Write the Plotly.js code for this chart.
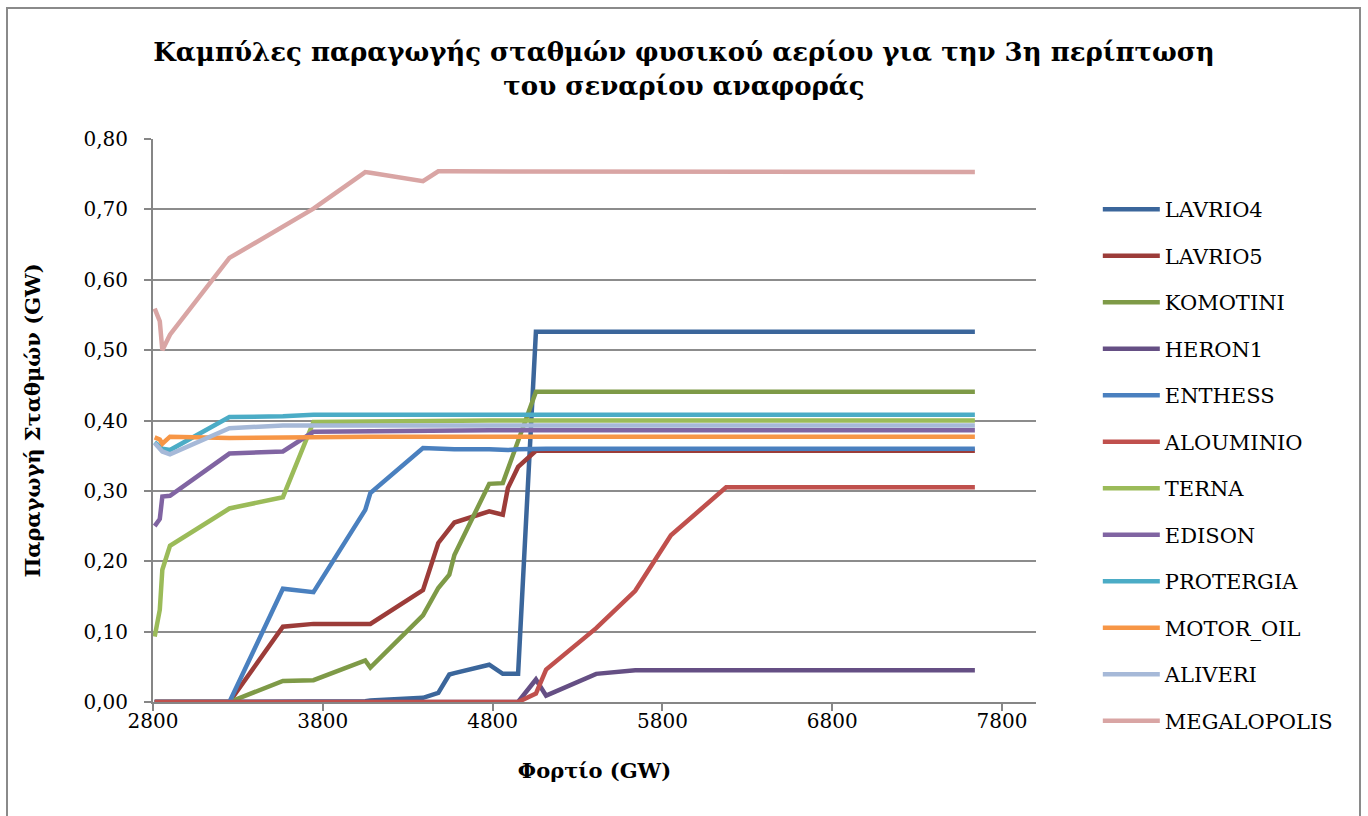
<!DOCTYPE html>
<html>
<head>
<meta charset="utf-8">
<script src="https://cdn.plot.ly/plotly-3.0.1.min.js"></script>
<style>
  html, body { margin: 0; padding: 0; background: #ffffff; overflow: hidden; }
  #chart { position: absolute; left: 0; top: 0; width: 1368px; height: 816px; }
  #frame { position: absolute; left: 6px; top: 7px; width: 1355px; height: 830px;
           border: 2px solid #8a8a8a; box-sizing: border-box; pointer-events: none; }
</style>
</head>
<body>
<div id="chart"></div>
<div id="frame"></div>
<script>
// Load (GW) – common x values
const load = [2810, 2840, 2855, 2900, 3250, 3565, 3745, 4050, 4080, 4390, 4480, 4545, 4575, 4780, 4860, 4890, 4950, 5055, 5115, 5410, 5640, 5850, 6175, 7640];

const LAVRIO4     = [0, 0, 0, 0, 0, 0, 0.001, 0.001, 0.002, 0.006, 0.013, 0.039, 0.041, 0.053, 0.040, 0.040, 0.040, 0.526, 0.526, 0.526, 0.526, 0.526, 0.526, 0.526];
const LAVRIO5     = [0, 0, 0, 0, 0, 0.107, 0.111, 0.111, 0.111, 0.159, 0.226, 0.246, 0.255, 0.271, 0.266, 0.304, 0.334, 0.357, 0.357, 0.357, 0.357, 0.357, 0.357, 0.357];
const KOMOTINI    = [0, 0, 0, 0, 0, 0.030, 0.031, 0.059, 0.049, 0.123, 0.162, 0.181, 0.209, 0.310, 0.311, 0.331, 0.371, 0.441, 0.441, 0.441, 0.441, 0.441, 0.441, 0.441];
const HERON1      = [0, 0, 0, 0, 0, 0, 0, 0, 0, 0, 0, 0, 0, 0, 0, 0, 0, 0.032, 0.009, 0.040, 0.045, 0.045, 0.045, 0.045];
const ENTHESS     = [0, 0, 0, 0, 0, 0.161, 0.156, 0.273, 0.297, 0.361, 0.360, 0.359, 0.359, 0.359, 0.358, 0.358, 0.359, 0.360, 0.360, 0.360, 0.360, 0.360, 0.360, 0.360];
const ALOUMINIO   = [0, 0, 0, 0, 0, 0, 0, 0, 0, 0, 0, 0, 0, 0, 0, 0, 0, 0.012, 0.046, 0.105, 0.158, 0.237, 0.305, 0.305];
const TERNA       = [0.093, 0.131, 0.188, 0.222, 0.275, 0.291, 0.398, 0.399, 0.399, 0.400, 0.400, 0.400, 0.400, 0.400, 0.400, 0.400, 0.400, 0.400, 0.400, 0.400, 0.400, 0.400, 0.400, 0.400];
const EDISON      = [0.250, 0.260, 0.292, 0.293, 0.353, 0.356, 0.384, 0.385, 0.385, 0.386, 0.386, 0.386, 0.386, 0.386, 0.386, 0.386, 0.386, 0.386, 0.386, 0.386, 0.386, 0.386, 0.386, 0.386];
const PROTERGIA   = [0.369, 0.363, 0.360, 0.358, 0.405, 0.406, 0.408, 0.408, 0.408, 0.408, 0.408, 0.408, 0.408, 0.408, 0.408, 0.408, 0.408, 0.408, 0.408, 0.408, 0.408, 0.408, 0.408, 0.408];
const MOTOR_OIL   = [0.376, 0.373, 0.367, 0.377, 0.375, 0.376, 0.376, 0.377, 0.377, 0.377, 0.377, 0.377, 0.377, 0.377, 0.377, 0.377, 0.377, 0.377, 0.377, 0.377, 0.377, 0.377, 0.377, 0.377];
const ALIVERI     = [0.368, 0.360, 0.356, 0.352, 0.389, 0.393, 0.393, 0.393, 0.393, 0.393, 0.393, 0.393, 0.393, 0.393, 0.393, 0.393, 0.393, 0.393, 0.393, 0.393, 0.393, 0.393, 0.393, 0.393];
const MEGALOPOLIS = [0.559, 0.541, 0.500, 0.522, 0.631, 0.676, 0.701, 0.753, 0.752, 0.740, 0.754, 0.754, 0.754, 0.754, 0.754, 0.754, 0.753, 0.753, 0.753, 0.753, 0.753, 0.753, 0.753, 0.753];

const seriesNames = ["LAVRIO4", "LAVRIO5", "KOMOTINI", "HERON1", "ENTHESS", "ALOUMINIO", "TERNA", "EDISON", "PROTERGIA", "MOTOR_OIL", "ALIVERI", "MEGALOPOLIS"];
const seriesValues = [LAVRIO4, LAVRIO5, KOMOTINI, HERON1, ENTHESS, ALOUMINIO, TERNA, EDISON, PROTERGIA, MOTOR_OIL, ALIVERI, MEGALOPOLIS];
const seriesColors = ["#3b669b", "#9c3c39", "#7e9a47", "#654f84", "#4a80bf", "#c0504d", "#9bbb59", "#8064a2", "#4bacc6", "#f79646", "#a6b9d8", "#d9a5a4"];

const xTicks = [2800, 3800, 4800, 5800, 6800, 7800];
const yTicks = [0, 0.1, 0.2, 0.3, 0.4, 0.5, 0.6, 0.7, 0.8];

const serif = "DejaVu Serif, Liberation Serif, serif";

const traces = seriesNames.map((n, i) => ({
  type: "scatter",
  mode: "lines",
  name: n,
  x: load,
  y: seriesValues[i],
  legendgroup: n,
  line: { color: seriesColors[i], width: 4.5, shape: "linear" },
  hoverinfo: "x+y+name"
}));

const layout = {
  width: 1368,
  height: 816,
  paper_bgcolor: "#ffffff",
  plot_bgcolor: "#ffffff",
  separators: ",.",
  margin: { l: 153, r: 332, t: 139, b: 114, pad: 0 },
  title: {
    text: "<b>Καμπύλες παραγωγής σταθμών φυσικού αερίου για την 3η περίπτωση<br>του σεναρίου αναφοράς</b>",
    font: { family: serif, size: 26, color: "#000000" },
    x: 0.5, xref: "container", xanchor: "center",
    y: 0.925, yref: "container", yanchor: "middle"
  },
  xaxis: {
    range: [2800, 8000],
    tickmode: "array",
    tickvals: xTicks,
    ticktext: xTicks.map(String),
    showgrid: false,
    zeroline: false,
    showline: true,
    linecolor: "#868686",
    linewidth: 2,
    ticks: "outside",
    ticklen: 7,
    tickwidth: 2,
    tickcolor: "#868686",
    ticklabelstandoff: -7,
    tickfont: { family: serif, size: 20, color: "#000000" },
    title: { text: "<b>Φορτίο (GW)</b>", font: { family: serif, size: 21, color: "#000000" }, standoff: 31 }
  },
  yaxis: {
    range: [0, 0.8],
    tickmode: "array",
    tickvals: yTicks,
    tickformat: ".2f",
    showgrid: true,
    gridcolor: "#8c8c8c",
    gridwidth: 2,
    zeroline: false,
    showline: true,
    linecolor: "#868686",
    linewidth: 2,
    ticks: "outside",
    ticklen: 7,
    tickwidth: 2,
    tickcolor: "#868686",
    ticklabelstandoff: 12,
    tickfont: { family: serif, size: 20, color: "#000000" },
    title: { text: "<b>Παραγωγή Σταθμών (GW)</b>", font: { family: serif, size: 21, color: "#000000" }, standoff: 37 }
  },
  legend: {
    x: 1.07, xanchor: "left",
    y: 0.911, yanchor: "top",
    font: { family: serif, size: 21, color: "#000000" },
    tracegroupgap: 16.2,
    bgcolor: "rgba(0,0,0,0)",
    itemwidth: 57
  },
  showlegend: true
};

Plotly.newPlot("chart", traces, layout, { displayModeBar: false, staticPlot: true });
</script>
</body>
</html>
